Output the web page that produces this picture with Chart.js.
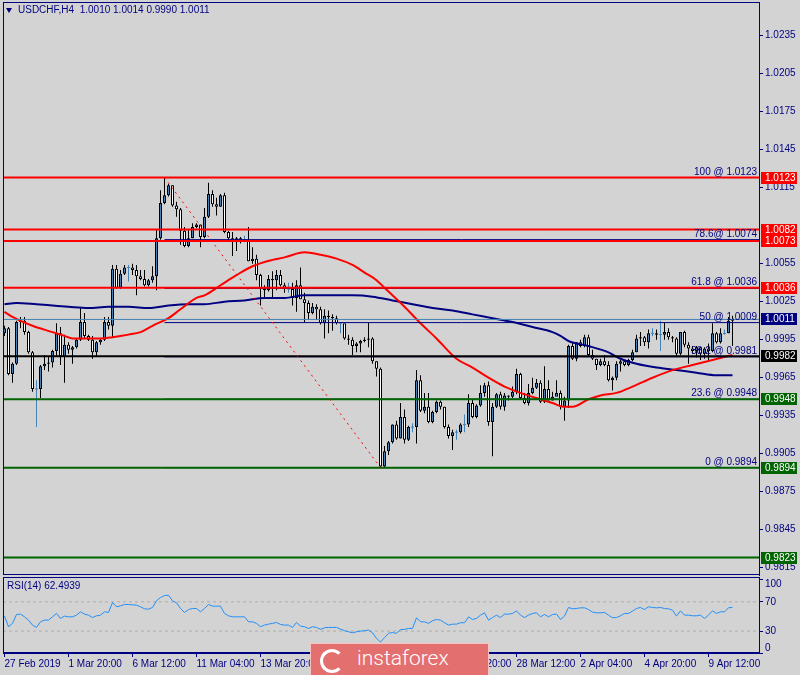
<!DOCTYPE html>
<html>
<head>
<meta charset="utf-8">
<script src="https://cdn.jsdelivr.net/npm/chart.js@4.4.0/dist/chart.umd.min.js"></script>
<style>
  body { margin:0; width:800px; height:675px; overflow:hidden; position:relative; background:#d3d3d3; font-family:"Liberation Sans", Arial, sans-serif; }
  #main { position:absolute; left:0; top:0; }
  #rsi { position:absolute; left:0; top:577px; }
  #title { position:absolute; left:18px; top:4px; font-size:10px; color:#000080; white-space:pre; }
  #tri { position:absolute; left:6px; top:8px; width:0; height:0; border-left:3px solid transparent; border-right:3px solid transparent; border-top:5px solid #000080; }
  #rsiLabel { position:absolute; left:7px; top:580px; font-size:10px; color:#000080; white-space:pre; }
  #logo { position:absolute; left:310px; top:643px; width:177px; height:32px; background:#e46f6f; border:1px solid #f2c4c4; border-bottom:none; }
  #logo .ring { position:absolute; left:9px; top:5px; width:18px; height:18px; border:3px solid #fff; border-right-color:transparent; border-radius:50%; }
  #logo .txt { position:absolute; left:46px; top:2px; font-family:Roboto, "Open Sans", sans-serif; font-weight:300; font-size:21px; color:#fff; }
</style>
</head>
<body>
<canvas id="main" width="800" height="577"></canvas>
<canvas id="rsi" width="800" height="98"></canvas>
<div id="tri"></div>
<div id="title">USDCHF,H4  1.0010 1.0014 0.9990 1.0011</div>
<div id="rsiLabel">RSI(14) 62.4939</div>
<div id="logo"><div class="ring"></div><div class="txt">instaforex</div></div>
<script>
// USDCHF H4 candles (open of each bar = previous close)
var firstOpen = 1.0000;
var closes = [
  1.0004,0.9968,0.9976,1.0009,1.0010,1.0001,0.9985,0.9956,0.9956,0.9974,
  0.9976,0.9977,0.9986,1.0000,0.9982,0.9991,0.9987,0.9989,0.9995,1.0009,
  0.9998,0.9995,0.9985,0.9993,0.9995,1.0009,1.0006,1.0051,1.0036,1.0047,
  1.0052,1.0052,1.0050,1.0045,1.0043,1.0038,1.0042,1.0045,1.0075,1.0103,
  1.0109,1.0117,1.0101,1.0098,1.0081,1.0069,1.0075,1.0084,1.0086,1.0076,
  1.0092,1.0110,1.0102,1.0100,1.0109,1.0080,1.0075,1.0072,1.0075,1.0073,
  1.0073,1.0057,1.0059,1.0046,1.0035,1.0034,1.0043,1.0042,1.0046,1.0038,
  1.0035,1.0035,1.0028,1.0038,1.0027,1.0024,1.0016,1.0021,1.0019,1.0008,
  1.0014,1.0013,1.0012,1.0008,1.0008,0.9996,0.9995,0.9990,0.9992,0.9994,
  0.9995,0.9996,0.9978,0.9972,0.9895,0.9907,0.9914,0.9928,0.9917,0.9934,
  0.9916,0.9926,0.9926,0.9963,0.9939,0.9942,0.9930,0.9938,0.9946,0.9942,
  0.9926,0.9919,0.9922,0.9922,0.9928,0.9928,0.9945,0.9934,0.9943,0.9953,
  0.9959,0.9930,0.9942,0.9952,0.9942,0.9951,0.9950,0.9954,0.9968,0.9949,
  0.9945,0.9953,0.9957,0.9961,0.9946,0.9956,0.9947,0.9950,0.9953,0.9942,
  0.9947,0.9990,0.9980,0.9993,0.9990,0.9997,0.9983,0.9980,0.9975,0.9978,
  0.9975,0.9963,0.9965,0.9976,0.9978,0.9975,0.9979,0.9985,0.9996,0.9997,
  0.9993,1.0000,1.0000,0.9999,0.9999,1.0001,0.9997,0.9996,0.9984,1.0001,
  0.9991,0.9988,0.9986,0.9989,0.9984,0.9988,0.9986,1.0000,0.9993,1.0000,
  1.0000,1.0010,1.0011
];
var highs = [
  1.0006,1.0005,0.9977,1.0010,1.0013,1.0013,1.0002,0.9986,0.9963,0.9975,
  0.9983,0.9982,0.9987,1.0008,1.0005,0.9999,0.9993,0.9990,0.9996,1.0020,
  1.0016,0.9999,0.9998,0.9994,0.9996,1.0013,1.0013,1.0054,1.0054,1.0050,
  1.0054,1.0054,1.0055,1.0054,1.0050,1.0050,1.0043,1.0053,1.0082,1.0113,
  1.0123,1.0118,1.0117,1.0104,1.0099,1.0084,1.0082,1.0087,1.0087,1.0086,
  1.0099,1.0119,1.0113,1.0107,1.0110,1.0111,1.0081,1.0080,1.0076,1.0076,
  1.0077,1.0084,1.0068,1.0062,1.0047,1.0038,1.0046,1.0049,1.0050,1.0050,
  1.0040,1.0040,1.0040,1.0042,1.0052,1.0032,1.0026,1.0024,1.0023,1.0021,
  1.0019,1.0018,1.0015,1.0014,1.0009,1.0007,0.9999,0.9997,0.9993,0.9995,
  0.9997,1.0009,0.9997,0.9978,0.9973,0.9911,0.9915,0.9928,0.9931,0.9945,
  0.9940,0.9927,0.9929,0.9971,0.9967,0.9953,0.9953,0.9939,0.9947,0.9947,
  0.9942,0.9928,0.9924,0.9924,0.9929,0.9936,0.9952,0.9948,0.9944,0.9959,
  0.9961,0.9962,0.9945,0.9953,0.9954,0.9953,0.9951,0.9958,0.9972,0.9969,
  0.9953,0.9960,0.9965,0.9964,0.9963,0.9974,0.9963,0.9954,0.9963,0.9955,
  0.9950,0.9991,0.9993,0.9993,0.9995,0.9999,0.9999,0.9987,0.9980,0.9980,
  0.9983,0.9978,0.9966,0.9978,0.9979,0.9979,0.9980,0.9987,0.9999,1.0001,
  0.9998,1.0003,1.0004,1.0003,1.0010,1.0009,1.0004,0.9998,0.9997,1.0001,
  1.0002,0.9993,0.9990,0.9990,0.9989,0.9989,0.9992,1.0008,1.0001,1.0004,
  1.0003,1.0013,1.0014
];
var lows = [
  0.9998,0.9967,0.9961,0.9975,1.0004,0.9999,0.9984,0.9954,0.9926,0.9949,
  0.9971,0.9970,0.9973,0.9982,0.9975,0.9961,0.9984,0.9976,0.9988,0.9994,
  0.9996,0.9994,0.9980,0.9982,0.9991,0.9994,1.0003,0.9997,1.0035,1.0035,
  1.0046,1.0041,1.0046,1.0030,1.0042,1.0037,1.0037,1.0040,1.0034,1.0074,
  1.0102,1.0108,1.0100,1.0092,1.0070,1.0068,1.0068,1.0075,1.0083,1.0068,
  1.0075,1.0091,1.0100,1.0093,1.0100,1.0079,1.0074,1.0061,1.0065,1.0071,
  1.0072,1.0057,1.0055,1.0042,1.0022,1.0028,1.0033,1.0028,1.0034,1.0037,
  1.0032,1.0032,1.0022,1.0017,1.0027,1.0009,1.0011,1.0015,1.0011,1.0007,
  0.9996,1.0000,1.0002,1.0007,1.0000,0.9995,0.9991,0.9983,0.9985,0.9985,
  0.9993,0.9989,0.9976,0.9966,0.9894,0.9894,0.9904,0.9913,0.9916,0.9917,
  0.9913,0.9915,0.9922,0.9913,0.9938,0.9937,0.9929,0.9929,0.9937,0.9940,
  0.9925,0.9917,0.9908,0.9916,0.9921,0.9922,0.9926,0.9933,0.9933,0.9942,
  0.9950,0.9927,0.9903,0.9941,0.9940,0.9939,0.9947,0.9949,0.9952,0.9948,
  0.9944,0.9943,0.9952,0.9956,0.9945,0.9945,0.9947,0.9947,0.9952,0.9940,
  0.9931,0.9941,0.9979,0.9978,0.9989,0.9989,0.9982,0.9979,0.9971,0.9974,
  0.9974,0.9962,0.9955,0.9963,0.9970,0.9974,0.9974,0.9978,0.9985,0.9990,
  0.9990,0.9988,0.9998,0.9995,0.9986,0.9995,0.9995,0.9993,0.9982,0.9983,
  0.9989,0.9976,0.9984,0.9981,0.9979,0.9980,0.9979,0.9985,0.9992,0.9992,
  0.9999,1.0000,0.9990
];

// moving averages, read at spaced bars
var redIdx = [0,2,7,12,15,17,24,27,31,34,37,41,44,48,50,54,58,62,67,70,75,79,83,87,90,93,95,100,104,108,113,117,121,125,129,133,137,140,142,146,149,153,157,162,167,172,177,182];
var redVals = [1.0017,1.0013,1.0006,1.0001,0.9998,0.9996,0.9996,0.9997,0.9999,1.0001,
  1.0006,1.0012,1.0019,1.0028,1.0030,1.0038,1.0046,1.0053,1.0058,1.0060,
  1.0064,1.0062,1.0059,1.0054,1.0048,1.0042,1.0036,1.0021,1.0008,0.9996,
  0.9980,0.9973,0.9965,0.9958,0.9953,0.9949,0.9945,0.9942,0.9942,0.9948,
  0.9951,0.9953,0.9958,0.9965,0.9971,0.9975,0.9979,0.9983];
var blueIdx = [0,3,8,12,16,21,26,31,36,41,46,50,55,60,65,70,75,80,87,92,97,102,107,112,117,122,127,132,137,139,141,146,151,154,158,163,168,173,178,182];
var blueVals = [1.0023,1.0024,1.0023,1.0022,1.0021,1.0020,1.0021,1.0021,1.0020,1.0022,
  1.0023,1.0023,1.0025,1.0026,1.0028,1.0028,1.0030,1.0030,1.0030,1.0029,
  1.0026,1.0023,1.0020,1.0018,1.0015,1.0012,1.0009,1.0005,1.0001,0.9998,
  0.9994,0.9990,0.9985,0.9980,0.9976,0.9973,0.9971,0.9969,0.9967,0.9967];

// RSI(14)
var rsiVals = [
  50.5,35.9,40.5,52.7,53.2,49.5,45.0,38.2,35.0,42.7,
  45.0,45.0,49.5,54.1,47.3,50.5,49.5,49.5,51.8,56.4,
  53.2,51.8,48.6,50.9,51.8,56.4,55.5,69.1,63.2,64.5,
  66.4,66.4,65.9,65.5,63.2,60.5,60.0,62.3,71.4,75.9,
  78.6,79.1,71.4,68.6,60.9,55.5,59.5,60.9,60.9,56.4,
  60.9,66.4,64.1,64.1,64.1,54.1,50.9,49.5,49.5,49.5,
  49.5,42.7,42.7,40.5,35.9,38.2,39.5,40.5,41.8,39.1,
  38.2,38.2,35.0,41.8,36.8,35.9,33.6,35.9,35.0,32.3,
  34.5,35.0,35.0,35.0,32.7,30.5,29.1,27.7,29.1,30.0,
  30.5,31.4,27.7,20.0,15.0,21.0,27.0,28.0,27.0,32.0,
  32.3,33.6,33.6,48.2,42.7,42.7,40.5,44.1,45.9,45.0,
  41.4,38.2,39.5,39.5,41.4,41.4,49.5,45.9,47.3,51.8,
  55.0,45.0,48.6,51.8,48.6,53.2,53.2,54.1,57.7,51.8,
  48.6,51.8,54.1,55.0,49.5,52.7,49.5,52.7,53.2,45.9,
  50.5,62.3,60.5,60.9,61.8,61.8,59.5,55.9,55.0,55.0,
  55.5,51.8,48.2,48.6,50.9,54.1,54.1,57.3,60.9,62.3,
  59.5,63.2,62.3,61.8,62.3,60.9,60.5,58.6,50.5,57.7,
  51.8,51.8,50.9,50.9,51.8,47.3,51.8,57.7,54.1,56.4,
  56.4,61.8,62.5
];
var rsiLevels = [70, 30];
var rsiTicks = [0, 30, 70, 100];

// horizontal levels
var levelVals = [1.0123, 1.0082, 1.0073, 1.0036, 0.9982, 0.9948, 0.9894, 0.9823];
var levelColors = ['#ff0000','#ff0000','#ff0000','#ff0000','#000000','#006400','#006400','#006400'];
var bidPrice = 1.0011;

// fibonacci (from high bar to low bar)
var fibHighIdx = 40, fibLowIdx = 94;
var fibHigh = 1.0123, fibLow = 0.9894;
var fibRatios = [100, 78.6, 61.8, 50, 38.2, 23.6, 0];
var fibLabels = ['100 @ 1.0123','78.6@ 1.0074','61.8 @ 1.0036','50 @ 1.0009','38.2 @ 0.9981','23.6 @ 0.9948','0 @ 0.9894'];

// axis ticks
var yTicks = [0.9815,0.9845,0.9875,0.9905,0.9935,0.9965,0.9995,1.0025,1.0055,1.0115,1.0145,1.0175,1.0205,1.0235];
var badgeVals = [1.0123,1.0082,1.0073,1.0036,1.0011,0.9982,0.9948,0.9894,0.9823];
var badgeColors = ['#ff0000','#ff0000','#ff0000','#ff0000','#000080','#000000','#006400','#006400','#006400'];
var timeIdx = [0,16,32,48,64,80,96,112,128,144,160,176];
var timeLabels = ['27 Feb 2019','1 Mar 20:00','6 Mar 12:00','11 Mar 04:00','13 Mar 20:00','18 Mar 12:00','21 Mar 04:00','25 Mar 20:00','28 Mar 12:00','2 Apr 04:00','4 Apr 20:00','9 Apr 12:00'];

var xMin = -0.375, xMax = 188.625;
var yMin = 0.980925, yMax = 1.02616;
var NAVY = '#000080', FONT = '"Liberation Sans", Arial, sans-serif';

var opens = closes.map(function (c, i) { return i === 0 ? firstOpen : closes[i - 1]; });
function isDoji(i) { return Math.abs(closes[i] - opens[i]) < 0.00002; }
function pts(idx, vals) { return idx.map(function (x, k) { return { x: x, y: vals[k] }; }); }
function hline(v, from) { return [{ x: from, y: v }, { x: xMax, y: v }]; }
// chart.js reserves room for edge tick labels; the panels here have fixed edges
function noPad(s) { s.paddingTop = 0; s.paddingBottom = 0; s.paddingLeft = 0; s.paddingRight = 0; }

var wicks = closes.map(function (c, i) { return { x: i, y: [lows[i], highs[i]] }; });
var bodies = closes.map(function (c, i) {
  var o = opens[i];
  if (isDoji(i)) return { x: i, y: [o - 0.00004, o + 0.00004] };
  return { x: i, y: [o, c] };
});

var datasets = [
  { type: 'bar', data: wicks, grouped: false, barThickness: 1, inflateAmount: 0, order: 10,
    backgroundColor: function (c) { return isDoji(c.dataIndex) ? '#4682b4' : '#000000'; } },
  { type: 'bar', data: bodies, grouped: false, barThickness: 3, inflateAmount: 0, order: 9,
    borderSkipped: false,
    borderWidth: function (c) { return isDoji(c.dataIndex) ? 0 : 1; },
    borderColor: '#000000',
    backgroundColor: function (c) {
      var i = c.dataIndex;
      if (isDoji(i)) return '#4682b4';
      return closes[i] > opens[i] ? '#4682b4' : '#ffffff';
    } },
  { type: 'line', data: pts(blueIdx, blueVals), borderColor: '#000080', borderWidth: 2, pointRadius: 0, cubicInterpolationMode: 'monotone', order: 6 },
  { type: 'line', data: pts(redIdx, redVals), borderColor: '#ff0000', borderWidth: 2, pointRadius: 0, cubicInterpolationMode: 'monotone', order: 5 },
  { type: 'line', data: hline(bidPrice, xMin), borderColor: '#4682b4', borderWidth: 1, pointRadius: 0, order: 4 }
];
fibRatios.forEach(function (r) {
  datasets.push({ type: 'line', data: hline(fibLow + (fibHigh - fibLow) * r / 100, fibHighIdx), borderColor: '#000080', borderWidth: 1, pointRadius: 0, order: 4 });
});
levelVals.forEach(function (v, k) {
  datasets.push({ type: 'line', data: hline(v, xMin), borderColor: levelColors[k], borderWidth: 2, pointRadius: 0, order: 3 });
});
datasets.push({ type: 'line', data: [{ x: fibHighIdx, y: fibHigh }, { x: fibLowIdx, y: fibLow }], borderColor: '#ff0000', borderWidth: 1, borderDash: [2, 4], pointRadius: 0, order: 2 });

var mainDecor = {
  id: 'mainDecor',
  afterDraw: function (chart) {
    var ctx = chart.ctx, a = chart.chartArea, y = chart.scales.y;
    ctx.save();
    ctx.strokeStyle = NAVY; ctx.lineWidth = 1;
    ctx.strokeRect(a.left + 0.5, a.top + 0.5, a.right - a.left, a.bottom - a.top - 1);
    ctx.font = '10px ' + FONT;
    ctx.fillStyle = NAVY; ctx.textAlign = 'right'; ctx.textBaseline = 'alphabetic';
    fibRatios.forEach(function (r, k) {
      var v = fibLow + (fibHigh - fibLow) * r / 100;
      ctx.fillText(fibLabels[k], a.right - 2, y.getPixelForValue(v) - 3);
    });
    ctx.textAlign = 'left'; ctx.textBaseline = 'middle';
    badgeVals.forEach(function (v, k) {
      var py = Math.round(y.getPixelForValue(v));
      ctx.fillStyle = badgeColors[k];
      ctx.fillRect(a.right + 2, py - 6, 36, 12);
      ctx.fillStyle = '#ffffff';
      ctx.fillText(v.toFixed(4), a.right + 6, py + 0.5);
    });
    ctx.restore();
  }
};

new Chart(document.getElementById('main'), {
  type: 'bar',
  data: { datasets: datasets },
  options: {
    responsive: false, animation: false, devicePixelRatio: 1,
    layout: { padding: { left: 3, top: 2, right: 0, bottom: 2 } },
    plugins: { legend: { display: false }, tooltip: { enabled: false } },
    scales: {
      x: { type: 'linear', min: xMin, max: xMax, display: false, offset: false },
      y: {
        position: 'right', min: yMin, max: yMax,
        afterFit: function (s) { s.width = 41; noPad(s); },
        afterBuildTicks: function (s) { s.ticks = yTicks.map(function (v) { return { value: v }; }); },
        ticks: { autoSkip: false, padding: 2, color: NAVY, font: { family: FONT, size: 10 },
          callback: function (v) { return Number(v).toFixed(4); } },
        grid: { drawOnChartArea: false, drawTicks: true, tickLength: 4, tickColor: NAVY },
        border: { display: true, color: NAVY }
      }
    }
  },
  plugins: [mainDecor]
});

var rsiSets = [
  { data: pts(rsiVals.map(function (v, i) { return i; }), rsiVals), borderColor: '#1e90ff', borderWidth: 1, pointRadius: 0, order: 1 }
];
rsiLevels.forEach(function (v) {
  rsiSets.push({ data: hline(v, xMin), borderColor: '#adadad', borderWidth: 1, borderDash: [3, 3], pointRadius: 0, order: 2 });
});

// panel frame and the RSI scale labels, kept inside the panel like the terminal does
var rsiDecor = {
  id: 'rsiDecor',
  afterDraw: function (chart) {
    var ctx = chart.ctx, a = chart.chartArea, y = chart.scales.y;
    ctx.save();
    ctx.strokeStyle = NAVY; ctx.lineWidth = 1;
    ctx.strokeRect(a.left + 0.5, a.top + 0.5, a.right - a.left, a.bottom - a.top - 1);
    ctx.font = '10px ' + FONT; ctx.fillStyle = NAVY;
    ctx.textAlign = 'left'; ctx.textBaseline = 'middle';
    rsiTicks.forEach(function (v) {
      var py = Math.min(Math.max(y.getPixelForValue(v), a.top + 7), a.bottom - 5);
      ctx.fillText(String(v), a.right + 6, py);
    });
    ctx.restore();
  }
};

new Chart(document.getElementById('rsi'), {
  type: 'line',
  data: { datasets: rsiSets },
  options: {
    responsive: false, animation: false, devicePixelRatio: 1,
    layout: { padding: { left: 3, top: 0, right: 0, bottom: 0 } },
    plugins: { legend: { display: false }, tooltip: { enabled: false } },
    scales: {
      x: {
        type: 'linear', min: xMin, max: xMax, offset: false,
        afterFit: function (s) { s.height = 22; noPad(s); },
        afterBuildTicks: function (s) { s.ticks = timeIdx.map(function (v) { return { value: v }; }); },
        ticks: { autoSkip: false, maxRotation: 0, align: 'start', padding: 1, color: NAVY, font: { family: FONT, size: 10 },
          callback: function (v) { return timeLabels[timeIdx.indexOf(v)]; } },
        grid: { drawOnChartArea: false, drawTicks: true, tickLength: 4, tickColor: NAVY },
        border: { display: true, color: NAVY }
      },
      y: {
        position: 'right', min: 0, max: 104,
        afterFit: function (s) { s.width = 41; noPad(s); },
        afterBuildTicks: function (s) { s.ticks = rsiTicks.map(function (v) { return { value: v }; }); },
        ticks: { display: false },
        grid: { drawOnChartArea: false, drawTicks: true, tickLength: 4, tickColor: NAVY },
        border: { display: true, color: NAVY }
      }
    }
  },
  plugins: [rsiDecor]
});
</script>
</body>
</html>
